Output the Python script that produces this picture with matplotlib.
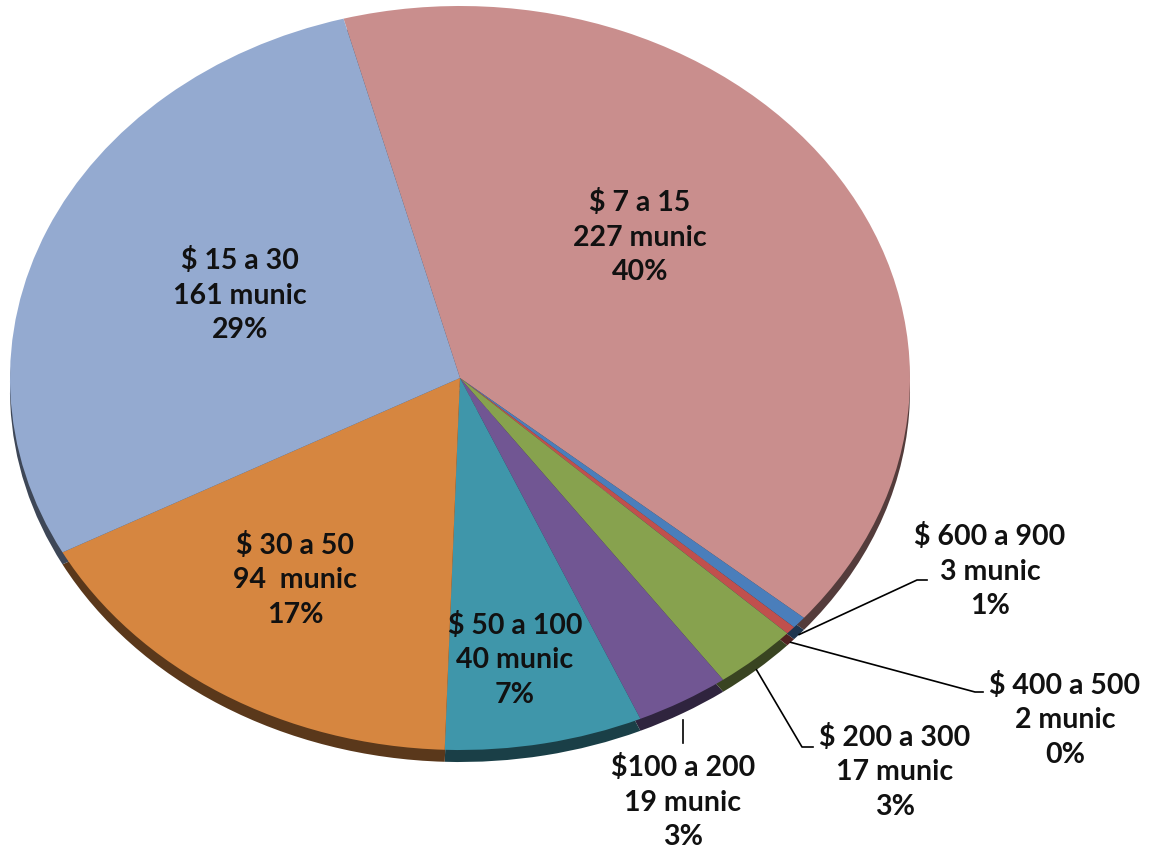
import numpy as np
import matplotlib
matplotlib.use("Agg")
import matplotlib.pyplot as plt
from matplotlib.colors import to_rgb

# data, clockwise from the top boundary
labels = ["$ 7 a 15", "$ 600 a 900", "$ 400 a 500", "$ 200 a 300",
          "$100 a 200", "$ 50 a 100", "$ 30 a 50", "$ 15 a 30"]
munic = [227, 3, 2, 17, 19, 40, 94, 161]
munic_txt = ["227 munic", "3 munic", "2 munic", "17 munic",
             "19 munic", "40 munic", "94  munic", "161 munic"]
pct = ["40%", "1%", "0%", "3%", "3%", "7%", "17%", "29%"]
colors = ["#C98E8D", "#4A7EBB", "#C0504D", "#87A24E",
          "#715693", "#3F96AA", "#D68640", "#94AAD0"]

W, H = 1151, 849
CX, CY = 460, 378      # pie centre in pixels
RX, RY = 450, 372      # ellipse semi axes in pixels
DEPTH = 12             # thickness of the side in pixels
START = 105

fig = plt.figure(figsize=(W / 100, H / 100), dpi=100)
ax = fig.add_axes([0, 0, 1, 1])


def px(x, y):
    # pixel position -> data coords
    return (x - CX) / RX, (CY - y) / RY


# side of the pie (shifted, darker copy)
dark = [tuple(c * 0.42 for c in to_rgb(col)) for col in colors]
ax.pie(munic, colors=dark, startangle=START, counterclock=False,
       center=(0, -DEPTH / RY), radius=1, frame=True,
       wedgeprops=dict(linewidth=0))
# top face
ax.pie(munic, colors=colors, startangle=START, counterclock=False,
       center=(0, 0), radius=1, frame=True,
       wedgeprops=dict(linewidth=0))
ax.set_aspect("auto")
ax.set_xlim(-CX / RX, (W - CX) / RX)
ax.set_ylim(-(H - CY) / RY, CY / RY)
ax.axis("off")

# label centres (pixels)
label_pos = [(640, 237), (990, 571), (1065, 720), (895, 772),
             (683, 802), (515, 660), (295, 580), (240, 295)]

# leader lines: elbow and end points (pixels) for the outside labels
leaders = {1: [(917, 580), (927, 580)],
           2: [(975, 692), (983, 692)],
           3: [(802, 747), (813, 747)],
           4: [(683, 743)]}

total = sum(munic)
ang = START
for i, v in enumerate(munic):
    sweep = v / total * 360
    mid = np.deg2rad(ang - sweep / 2)
    ang -= sweep
    txt = f"{labels[i]}\n{munic_txt[i]}\n{pct[i]}"
    x, y = px(*label_pos[i])
    ax.text(x, y, txt, ha="center", va="center", fontsize=20.5,
            fontweight="bold", family=["Lato", "DejaVu Sans"],
            color="#111111", linespacing=1.42)
    if i in leaders:
        sx, sy = np.cos(mid), np.sin(mid) - DEPTH / RY
        pts = [(sx, sy)] + [px(*p) for p in leaders[i]]
        if i == 4:
            pts = [px(683, 720)] + [px(*p) for p in leaders[i]]
        xs, ys = zip(*pts)
        ax.plot(xs, ys, color="black", linewidth=1.2)

fig.savefig("out.png", dpi=100)
